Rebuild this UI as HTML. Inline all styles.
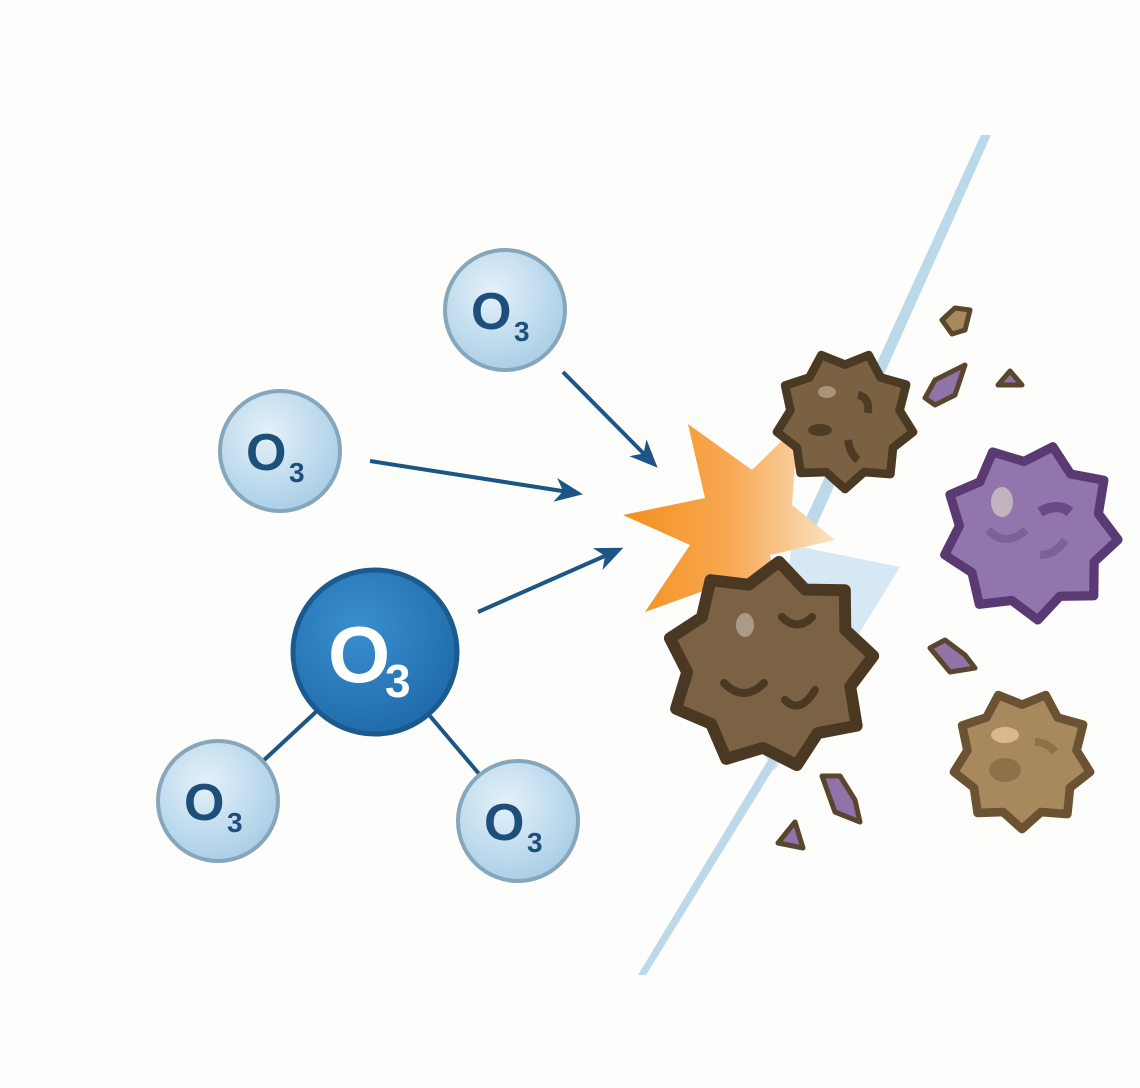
<!DOCTYPE html>
<html><head><meta charset="utf-8"><style>
html,body{margin:0;padding:0;background:#fdfdfb;}
svg{display:block}
text{font-family:"Liberation Sans",sans-serif;font-weight:bold}
</style></head><body>
<svg width="1140" height="1088" viewBox="0 0 1140 1088" xmlns="http://www.w3.org/2000/svg">
<defs>
<radialGradient id="lb" cx="40%" cy="35%" r="70%"><stop offset="0" stop-color="#e4f1f9"/><stop offset="1" stop-color="#a7cde6"/></radialGradient>
<radialGradient id="db" cx="40%" cy="35%" r="70%"><stop offset="0" stop-color="#3a8fcf"/><stop offset="1" stop-color="#1f6aa8"/></radialGradient>
<linearGradient id="og" x1="0" y1="0" x2="1" y2="0"><stop offset="0" stop-color="#f58f1e"/><stop offset="0.5" stop-color="#f7a852"/><stop offset="1" stop-color="#fbe3c6"/></linearGradient>
<polygon id="st" points="96,0 72.3,26.3 75.1,63 38.5,66.7 16.7,94.5 -13.3,75.8 -48,83.1 -59,49.5 -90.2,32.8 -77,0 -90.2,-32.8 -59,-49.5 -48,-83.1 -13.3,-75.8 16.7,-94.5 38.5,-66.7 75.1,-63 72.3,-26.3" stroke-linejoin="round"/>
<marker id="ah" markerWidth="28" markerHeight="28" refX="20" refY="14" orient="auto" markerUnits="userSpaceOnUse" viewBox="0 0 28 28"><path d="M0,2 L28,14 L0,26 L8,14z" fill="#1d5584"/></marker>
</defs>

<!-- blue band -->
<polygon points="981,135 991,135 810,540 796,540" fill="#bcd9e9"/>
<polygon points="792,545 900,567 775,770 760,750" fill="#d6e8f3"/>
<polygon points="774,750 785,750 646,975 638,975" fill="#bcd9e9"/>

<!-- starburst -->
<polygon points="688,424 752,470 798,425 792,505 835,540 770,555 780,610 720,585 645,612 690,545 623,515 705,498" fill="url(#og)"/>

<!-- arrows -->
<g stroke="#1d5584" stroke-width="4" fill="none">
<line x1="563" y1="372" x2="652" y2="462" marker-end="url(#ah)"/>
<line x1="370" y1="461" x2="575" y2="493" marker-end="url(#ah)"/>
<line x1="478" y1="612" x2="616" y2="551" marker-end="url(#ah)"/>
</g>
<g stroke="#1d5584" stroke-width="4">
<line x1="318" y1="710" x2="262" y2="762"/>
<line x1="430" y1="716" x2="480" y2="775"/>
</g>

<!-- small molecules -->
<g stroke="#86a6bc" stroke-width="4" fill="url(#lb)">
<circle cx="505" cy="310" r="60"/>
<circle cx="280" cy="451" r="60"/>
<circle cx="218" cy="801" r="60"/>
<circle cx="518" cy="821" r="60"/>
</g>
<g fill="#1d4f7a">
<text x="471" y="329" font-size="52">O</text><text x="514" y="341" font-size="28">3</text>
<text x="246" y="470" font-size="52">O</text><text x="289" y="482" font-size="28">3</text>
<text x="184" y="820" font-size="52">O</text><text x="227" y="832" font-size="28">3</text>
<text x="484" y="840" font-size="52">O</text><text x="527" y="852" font-size="28">3</text>
</g>
<circle cx="375" cy="652" r="82" fill="url(#db)" stroke="#1b5a8e" stroke-width="5"/>
<text x="328" y="682" font-size="80" fill="#fff">O</text>
<text x="385" y="697" font-size="46" fill="#fff">3</text>

<!-- blobs -->
<g transform="translate(845,420) scale(0.72) rotate(10)"><use href="#st" fill="#7a6142" stroke="#4a3a24" stroke-width="12"/></g>
<g fill="#4e3b25"><ellipse cx="820" cy="430" rx="12" ry="6"/><path d="M858,395 q12,2 10,18" stroke="#4e3b25" stroke-width="8" fill="none"/><path d="M848,440 q2,14 10,20" stroke="#4e3b25" stroke-width="8" fill="none"/></g>
<ellipse cx="827" cy="392" rx="9" ry="6" fill="#a89479"/>

<g transform="translate(1030,532) scale(0.92) rotate(5)"><use href="#st" fill="#9275ac" stroke="#5a3a72" stroke-width="10"/></g>
<ellipse cx="1002" cy="502" rx="11" ry="15" fill="#c2b3bf"/>
<path d="M1040,512 q18,-10 30,0" stroke="#6a4a86" stroke-width="10" fill="none"/>
<path d="M988,530 q18,18 38,0" stroke="#7d5f9a" stroke-width="8" fill="none"/>
<path d="M1040,555 q15,0 25,-15" stroke="#7d5f9a" stroke-width="8" fill="none"/>

<g transform="translate(770,665) scale(1.08) rotate(-5)"><use href="#st" fill="#7c6244" stroke="#4a3822" stroke-width="11"/></g>
<ellipse cx="745" cy="625" rx="9" ry="12" fill="#ad998a"/>
<g stroke="#4a3822" stroke-width="8" fill="none" stroke-linecap="round"><path d="M782,617 q15,15 30,0"/><path d="M724,683 q20,20 40,0"/><path d="M785,700 q15,15 30,-10"/></g>

<g transform="translate(1022,760) scale(0.72) rotate(10)"><use href="#st" fill="#a8895e" stroke="#6a5233" stroke-width="12"/></g>
<ellipse cx="1005" cy="735" rx="14" ry="8" fill="#d9b88a"/>
<ellipse cx="1005" cy="770" rx="16" ry="12" fill="#8f7149"/>
<path d="M1035,742 q12,0 20,10" stroke="#8f7149" stroke-width="8" fill="none"/>

<!-- fragments -->
<g stroke="#5a462c" stroke-width="5" stroke-linejoin="round">
<path d="M942,320 L955,308 L970,310 L965,330 L952,334z" fill="#a8895e"/>
<path d="M925,398 L935,380 L965,365 L955,395 L935,405z" fill="#8f73a9"/>
<path d="M998,385 L1010,371 L1022,385z" fill="#8f73a9"/>
<path d="M930,648 L945,640 L965,655 L975,668 L950,672z" fill="#8f73a9"/>
<path d="M822,776 L840,776 L855,800 L860,822 L835,812z" fill="#8f73a9"/>
<path d="M778,843 L795,822 L803,848z" fill="#8f73a9"/>
</g>
</svg>
</body></html>
